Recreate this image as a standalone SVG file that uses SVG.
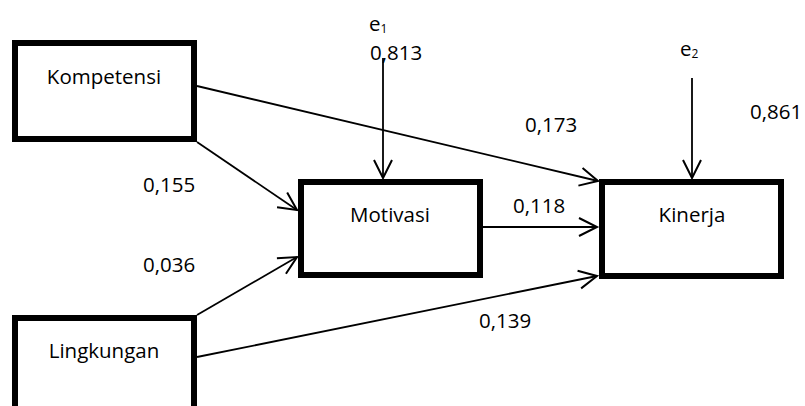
<svg xmlns="http://www.w3.org/2000/svg" width="805" height="406" viewBox="0 0 805 406">
  <defs>
    <marker id="arrow" markerUnits="userSpaceOnUse" markerWidth="24" markerHeight="24" viewBox="-20 -12 24 24" refX="0" refY="0" orient="auto">
      <path d="M-18,-9 L0,0 L-18,9" fill="none" stroke="#000" stroke-width="2"/>
    </marker>
    <style>
      .box { fill: #fff; stroke: #000; stroke-width: 6; }
      .lbl { font-family: "Open Sans", "Noto Sans", sans-serif; font-size: 20.5px; fill: #000; }
      .mid { text-anchor: middle; }
      .edge { stroke: #000; stroke-width: 1.8; fill: none; marker-end: url(#arrow); }
    </style>
  </defs>

  <rect width="805" height="406" fill="#fff"/>

  <!-- connectors -->
  <g id="connectors">
    <line class="edge" x1="197" y1="86" x2="598" y2="181"/>
    <line class="edge" x1="197" y1="142" x2="297" y2="210"/>
    <line class="edge" x1="197" y1="315" x2="297" y2="257"/>
    <line class="edge" x1="483" y1="227" x2="597" y2="227"/>
    <line class="edge" x1="197" y1="357" x2="597" y2="276"/>
    <line class="edge" x1="383" y1="58" x2="383" y2="178"/>
    <line class="edge" x1="692" y1="78" x2="692" y2="178"/>
  </g>

  <!-- path coefficients -->
  <g id="coefficients" class="lbl">
    <text x="525" y="132">0,173</text>
    <text x="143" y="192">0,155</text>
    <text x="143" y="272">0,036</text>
    <text x="513" y="213">0,118</text>
    <text x="479" y="328">0,139</text>
  </g>

  <!-- error terms -->
  <g id="e1" class="lbl">
    <text x="369" y="31">e<tspan font-size="12" dy="2">1</tspan></text>
    <text x="370" y="60">0,813</text>
  </g>
  <g id="e2" class="lbl">
    <text x="680" y="56">e<tspan font-size="12" dy="2">2</tspan></text>
    <text x="750" y="119">0,861</text>
  </g>

  <g id="kompetensi">
    <rect class="box" x="15" y="43" width="179" height="96"/>
    <text class="lbl mid" x="104" y="84">Kompetensi</text>
  </g>
  <g id="motivasi">
    <rect class="box" x="301" y="182" width="179" height="93"/>
    <text class="lbl mid" x="390" y="222">Motivasi</text>
  </g>
  <g id="kinerja">
    <rect class="box" x="602" y="182" width="179" height="94"/>
    <text class="lbl mid" x="692" y="222">Kinerja</text>
  </g>
  <g id="lingkungan">
    <rect class="box" x="15" y="318" width="179" height="100"/>
    <text class="lbl mid" x="104" y="358">Lingkungan</text>
  </g>
</svg>
